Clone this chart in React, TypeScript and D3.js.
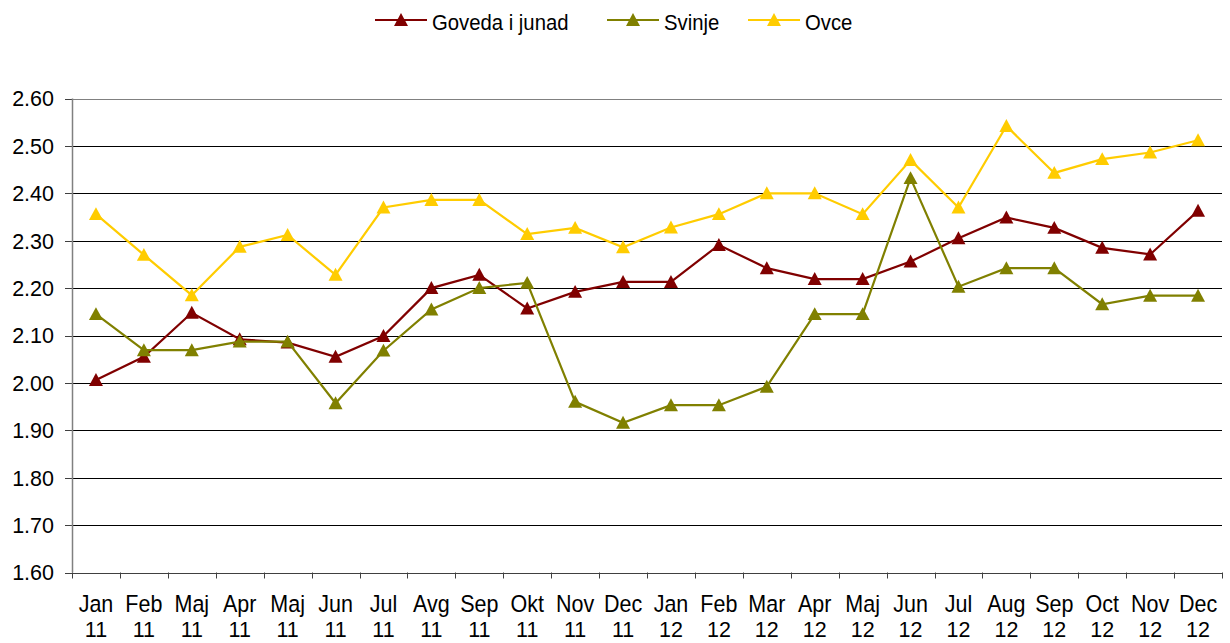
import React from "react";
import * as d3 from "d3";

const months = ["Jan", "Feb", "Maj", "Apr", "Maj", "Jun", "Jul", "Avg", "Sep", "Okt", "Nov", "Dec",
  "Jan", "Feb", "Mar", "Apr", "Maj", "Jun", "Jul", "Aug", "Sep", "Oct", "Nov", "Dec"];
const years = ["11", "11", "11", "11", "11", "11", "11", "11", "11", "11", "11", "11",
  "12", "12", "12", "12", "12", "12", "12", "12", "12", "12", "12", "12"];

const goveda = [2.006, 2.055, 2.148, 2.092, 2.085, 2.055, 2.099, 2.2, 2.228, 2.157, 2.192, 2.213,
  2.213, 2.291, 2.242, 2.219, 2.219, 2.256, 2.305, 2.349, 2.327, 2.285, 2.271, 2.363];
const svinje = [2.145, 2.069, 2.069, 2.087, 2.087, 1.957, 2.068, 2.155, 2.2, 2.211, 1.96, 1.916,
  1.953, 1.953, 1.992, 2.145, 2.145, 2.432, 2.203, 2.242, 2.242, 2.166, 2.184, 2.184];
const ovce = [2.356, 2.27, 2.185, 2.287, 2.312, 2.228, 2.37, 2.386, 2.386, 2.314, 2.327, 2.286,
  2.328, 2.356, 2.4, 2.4, 2.356, 2.47, 2.37, 2.542, 2.443, 2.472, 2.486, 2.512];

const yTicks = [1.6, 1.7, 1.8, 1.9, 2.0, 2.1, 2.2, 2.3, 2.4, 2.5, 2.6];

const seriesNames = ["Goveda i junad", "Svinje", "Ovce"];
const seriesColors = ["#800000", "#808000", "#FFCC00"];
const seriesData = [goveda, svinje, ovce];

const W = 1230, H = 643;
const left = 72, right = 1222, top = 98.5, bottom = 572.5;
const FONT = "Liberation Sans, Arial, sans-serif";

function tri(cx: number, cy: number, s = 7) {
  return `M${cx},${cy - s} L${cx + s},${cy + s * 0.85} L${cx - s},${cy + s * 0.85} Z`;
}

export default function App() {
  const x = d3.scaleBand<number>().domain(d3.range(months.length)).range([left, right]).padding(0);
  const y = d3.scaleLinear().domain([1.6, 2.6]).range([bottom, top]);
  const cx = (i: number) => (x(i) as number) + x.bandwidth() / 2;
  const line = d3.line<number>().x((_, i) => cx(i)).y((d) => y(d));

  const legendX = [375, 607, 748];

  return (
    <svg width={W} height={H} style={{ position: "absolute", left: 0, top: 0, background: "#fff" }}
      fontFamily={FONT}>
      {/* gridlines */}
      {yTicks.map((t, i) => (
        <g key={i}>
          {i > 0 && (
            <line x1={left} x2={right} y1={Math.round(y(t)) + 0.5} y2={Math.round(y(t)) + 0.5}
              stroke={i === yTicks.length - 1 ? "#808080" : "#000"} strokeWidth={1} />
          )}
          <line x1={left - 7} x2={left} y1={Math.round(y(t)) + 0.5} y2={Math.round(y(t)) + 0.5}
            stroke="#404040" strokeWidth={1} />
          <text transform={`translate(54,${y(t)}) scale(1,1.02)`} dy="0.36em" textAnchor="end"
            fontSize={21.5} fill="#000">
            {t.toFixed(2)}
          </text>
        </g>
      ))}
      {/* axes */}
      <line x1={left + 0.5} x2={left + 0.5} y1={top} y2={bottom} stroke="#808080" strokeWidth={1.5} />
      <line x1={left} x2={right} y1={Math.round(bottom) + 0.5} y2={Math.round(bottom) + 0.5}
        stroke="#404040" strokeWidth={1} />
      {d3.range(months.length + 1).map((i) => {
        const xx = i < months.length ? (x(i) as number) : right;
        return (
          <line key={i} x1={Math.round(xx) + 0.5} x2={Math.round(xx) + 0.5}
            y1={bottom} y2={bottom + 6} stroke="#404040" strokeWidth={1} />
        );
      })}
      {months.map((m, i) => (
        <g key={i}>
          <text transform={`translate(${cx(i)},611.5) scale(1,1.08)`} textAnchor="middle" fontSize={21.5} fill="#000">{m}</text>
          <text transform={`translate(${cx(i)},637) scale(1,1.04)`} textAnchor="middle" fontSize={21.5} fill="#000">{years[i]}</text>
        </g>
      ))}
      {/* series */}
      {seriesData.map((data, s) => (
        <g key={s}>
          <path d={line(data) || ""} fill="none" stroke={seriesColors[s]} strokeWidth={2.2} />
          {data.map((v, i) => (
            <path key={i} d={tri(cx(i), y(v))} fill={seriesColors[s]} />
          ))}
        </g>
      ))}
      {/* legend */}
      {seriesNames.map((n, s) => (
        <g key={s}>
          <line x1={legendX[s]} x2={legendX[s] + 52} y1={20} y2={20} stroke={seriesColors[s]} strokeWidth={2.2} />
          <path d={tri(legendX[s] + 26, 20)} fill={seriesColors[s]} />
          <text transform={`translate(${legendX[s] + 57},29.5) scale(1,1.1)`} fontSize={20.3} fill="#000">{n}</text>
        </g>
      ))}
    </svg>
  );
}
